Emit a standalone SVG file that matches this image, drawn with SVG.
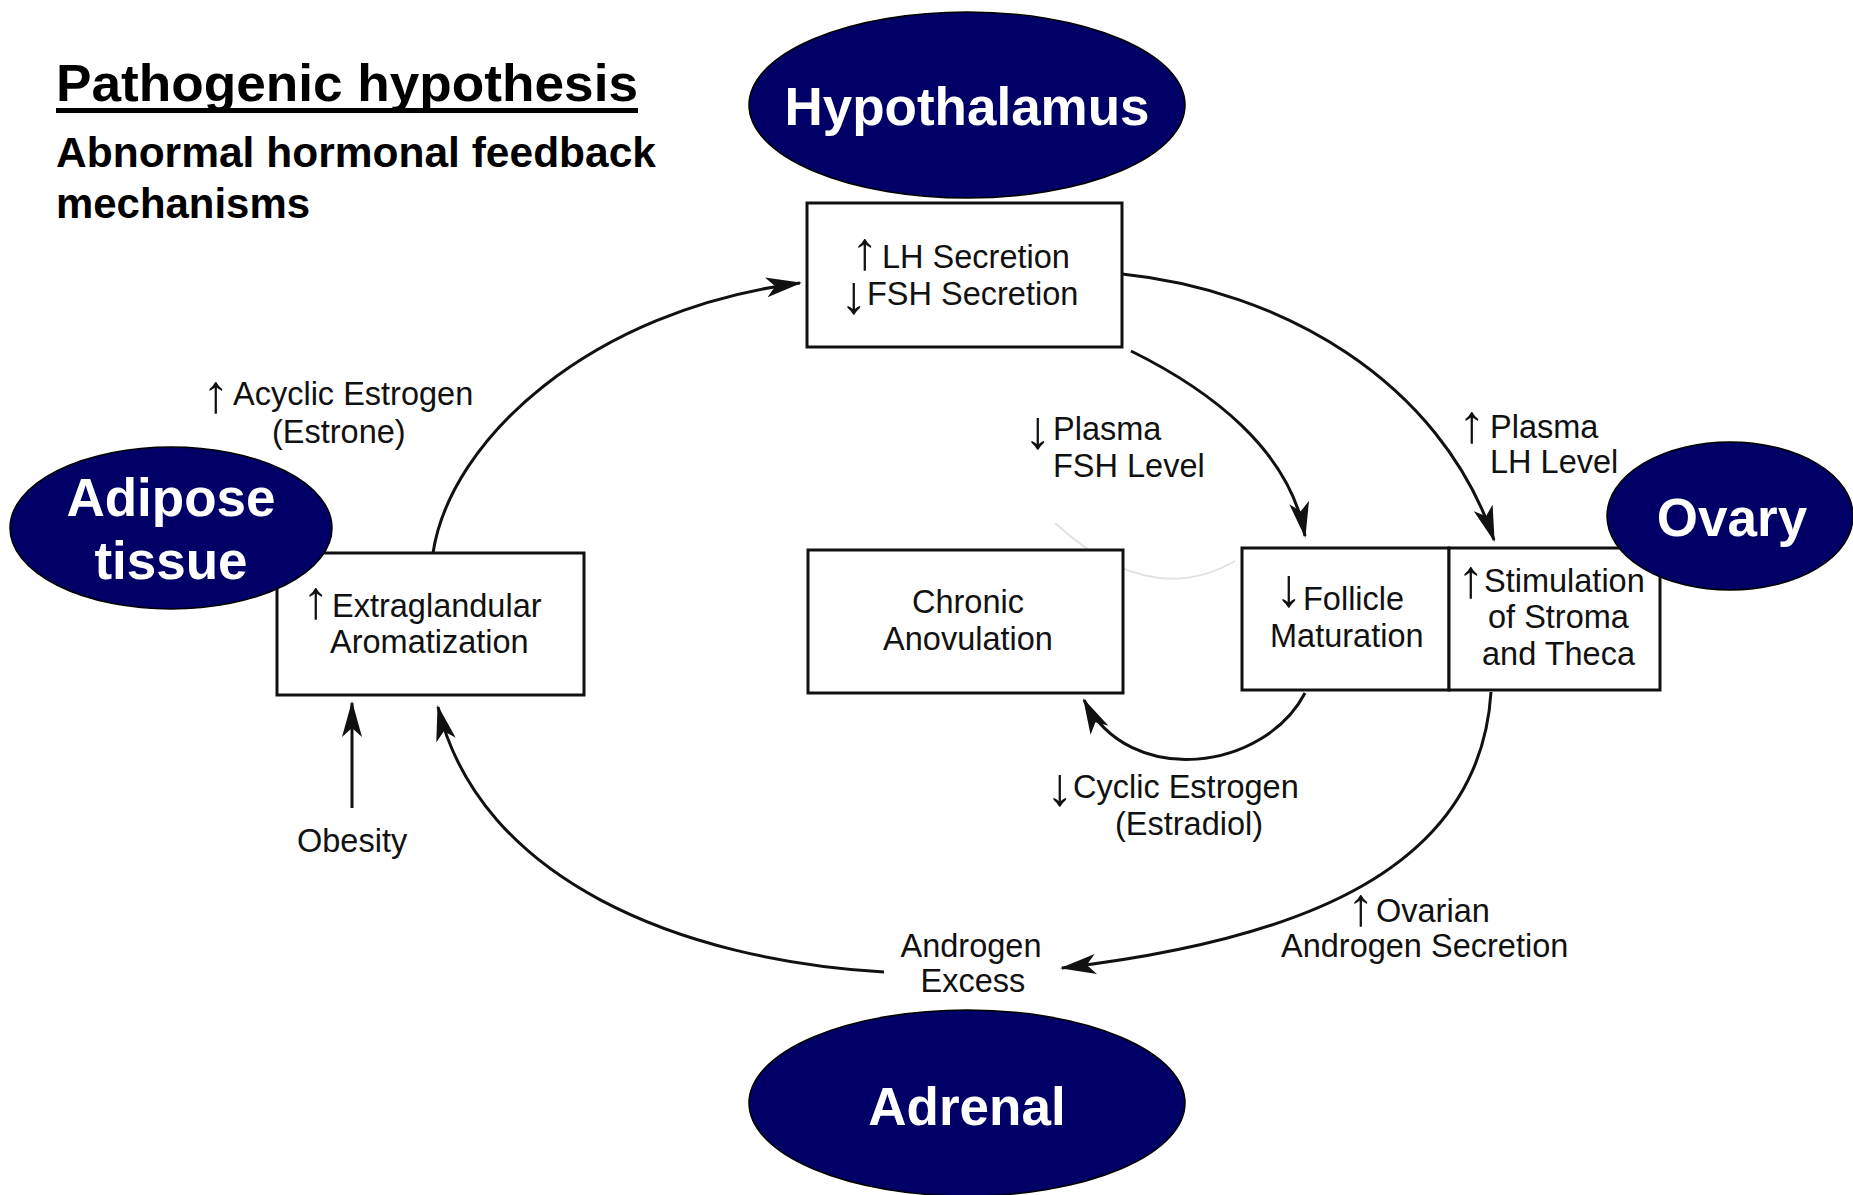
<svg xmlns="http://www.w3.org/2000/svg" width="1853" height="1195" viewBox="0 0 1853 1195">
<style>
.bg{fill:#ffffff}
.box{fill:#ffffff;stroke:#111;stroke-width:3}
.organ{fill:#000066;stroke:#000;stroke-width:1.5}
.olab{font-family:"Liberation Sans",Arial,sans-serif;font-weight:bold;font-size:53px;fill:#ffffff;text-anchor:middle}
.t{font-family:"Liberation Sans",Arial,sans-serif;font-size:32.5px;fill:#111}
.c{text-anchor:middle}
.ar{font-size:54px;font-weight:bold;text-anchor:middle}
.conn{fill:none;stroke:#111;stroke-width:3}
.ghost{fill:none;stroke:#e2e2e2;stroke-width:2}
.head{font-family:"Liberation Sans",Arial,sans-serif;font-weight:bold;fill:#000}
</style>
<defs>
<marker id="ah" viewBox="0 0 36 20" refX="34" refY="10" markerWidth="36" markerHeight="20" markerUnits="userSpaceOnUse" orient="auto">
<path d="M0,0 L36,10 L0,20 L9,10 z" fill="#111"/>
</marker>
</defs>
<rect class="bg" x="0" y="0" width="1853" height="1195"/>

<g id="heading">
<text class="head" x="56" y="101" font-size="52" textLength="582" lengthAdjust="spacingAndGlyphs">Pathogenic hypothesis</text>
<rect x="56" y="108" width="582" height="5" fill="#000"/>
<text class="head" x="56" y="167" font-size="42" textLength="600" lengthAdjust="spacingAndGlyphs">Abnormal hormonal feedback</text>
<text class="head" x="56" y="218" font-size="42" textLength="254" lengthAdjust="spacingAndGlyphs">mechanisms</text>
</g>

<g id="connectors">
<path class="conn" d="M433,553 C450,440 590,310 800,283" marker-end="url(#ah)"/>
<path class="conn" d="M1122,274 C1280,290 1440,380 1494,540" marker-end="url(#ah)"/>
<path class="conn" d="M1131,351 C1210,390 1290,450 1305,536" marker-end="url(#ah)"/>
<path class="conn" d="M1305,693 C1265,770 1130,790 1084,700" marker-end="url(#ah)"/>
<path class="conn" d="M1491,692 C1480,870 1300,940 1062,968" marker-end="url(#ah)"/>
<path class="conn" d="M884,972 C680,960 480,880 438,707" marker-end="url(#ah)"/>
<path class="conn" d="M352,808 L352,703" marker-end="url(#ah)"/>
<path class="ghost" d="M1055,523 Q1150,610 1235,561"/>
</g>

<g id="edge-labels">
<text class="t"><tspan class="ar" x="216" y="412">↑</tspan><tspan x="233" y="405">Acyclic Estrogen</tspan><tspan x="272" y="443">(Estrone)</tspan></text>
<text class="t"><tspan class="ar" x="1038" y="448">↓</tspan><tspan x="1053" y="440">Plasma</tspan><tspan x="1053" y="477">FSH Level</tspan></text>
<text class="t"><tspan class="ar" x="1472" y="442">↑</tspan><tspan x="1490" y="438">Plasma</tspan><tspan x="1490" y="473">LH Level</tspan></text>
<text class="t"><tspan class="ar" x="1060" y="805">↓</tspan><tspan x="1073" y="798">Cyclic Estrogen</tspan><tspan x="1115" y="835">(Estradiol)</tspan></text>
<text class="t"><tspan class="ar" x="1361" y="925">↑</tspan><tspan x="1376" y="922">Ovarian</tspan><tspan x="1281" y="957">Androgen Secretion</tspan></text>
</g>

<g id="node-androgen-excess">
<text class="t c"><tspan x="971" y="957">Androgen</tspan><tspan x="973" y="992">Excess</tspan></text>
</g>

<g id="node-obesity">
<text class="t" x="297" y="852">Obesity</text>
</g>

<g id="node-lh-fsh">
<rect class="box" x="807" y="203" width="315" height="144"/>
<text class="t"><tspan class="ar" x="865" y="269">↑</tspan><tspan x="882" y="268">LH Secretion</tspan><tspan class="ar" x="854" y="313">↓</tspan><tspan x="867" y="305">FSH Secretion</tspan></text>
</g>

<g id="node-extraglandular">
<rect class="box" x="277" y="553" width="307" height="142"/>
<text class="t"><tspan class="ar" x="316" y="618">↑</tspan><tspan x="332" y="617">Extraglandular</tspan><tspan x="330" y="653">Aromatization</tspan></text>
</g>

<g id="node-chronic">
<rect class="box" x="808" y="550" width="315" height="143"/>
<text class="t c"><tspan x="968" y="613">Chronic</tspan><tspan x="968" y="650">Anovulation</tspan></text>
</g>

<g id="node-follicle">
<rect class="box" x="1242" y="548" width="207" height="142"/>
<text class="t"><tspan class="ar" x="1289" y="606">↓</tspan><tspan x="1303" y="610">Follicle</tspan><tspan x="1270" y="647">Maturation</tspan></text>
</g>

<g id="node-stimulation">
<rect class="box" x="1449" y="548" width="211" height="142"/>
<text class="t"><tspan class="ar" x="1471" y="597">↑</tspan><tspan x="1484" y="592">Stimulation</tspan><tspan x="1488" y="628">of Stroma</tspan><tspan x="1482" y="665">and Theca</tspan></text>
</g>

<g id="node-hypothalamus">
<ellipse class="organ" cx="967" cy="105" rx="218" ry="93"/>
<text class="olab" x="967" y="125">Hypothalamus</text>
</g>

<g id="node-adipose">
<ellipse class="organ" cx="171" cy="528" rx="161" ry="81"/>
<text class="olab"><tspan x="171" y="516">Adipose</tspan><tspan x="171" y="579">tissue</tspan></text>
</g>

<g id="node-ovary">
<ellipse class="organ" cx="1730" cy="516" rx="123" ry="74"/>
<text class="olab" x="1732" y="536">Ovary</text>
</g>

<g id="node-adrenal">
<ellipse class="organ" cx="967" cy="1103" rx="218" ry="93"/>
<text class="olab" x="967" y="1125">Adrenal</text>
</g>
</svg>
